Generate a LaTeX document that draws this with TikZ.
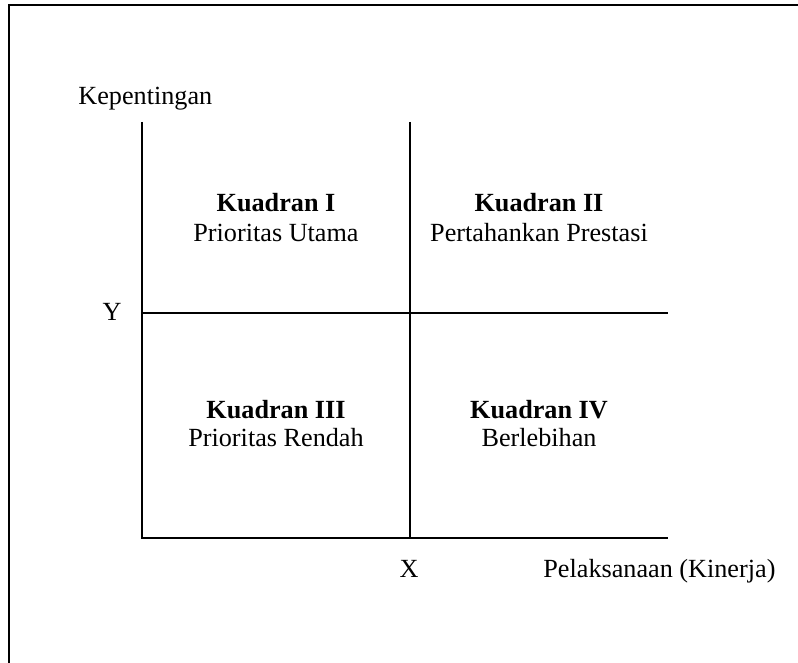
\documentclass[tikz,border=0pt]{standalone}
\usepackage{fontspec}
\setmainfont{Liberation Serif}
\begin{document}
\begin{tikzpicture}[x=0.5pt,y=-0.5pt,
  lbl/.style={font=\fontsize{13.1}{15}\selectfont, inner sep=0pt},
  axis/.style={line width=0.8pt, black},
  frame/.style={line width=1pt, black}]
\useasboundingbox (0,0) rectangle (798,663);
% frame
\coordinate (fb) at (9,663);
\coordinate (ftl) at (9,5);
\coordinate (fr) at (798,5);
\draw[frame] (fb) -- (ftl) -- (fr);
% grid coordinates
\coordinate (tl) at (142,122);
\coordinate (tm) at (410,122);
\coordinate (ml) at (142,313);
\coordinate (mr) at (668,313);
\coordinate (bl) at (142,538);
\coordinate (bm) at (410,538);
\coordinate (br) at (668,538);
\draw[axis] (tl) -- (bl) -- (br);
\draw[axis] (tm) -- (bm);
\draw[axis] (ml) -- (mr);
% axis labels
\node[lbl, anchor=base west] (kep) at (78,105) {Kepentingan};
\node[lbl, anchor=base] (ylab) at (112,321) {Y};
\node[lbl, anchor=base] (xlab) at (409,577) {X};
\node[lbl, anchor=base west] (pel) at (543,577) {Pelaksanaan (Kinerja)};
% quadrants
\node[lbl, anchor=base] (q1a) at (276,212) {\textbf{Kuadran I}};
\node[lbl, anchor=base] (q1b) at (276,242) {Prioritas Utama};
\node[lbl, anchor=base] (q2a) at (539,212) {\textbf{Kuadran II}};
\node[lbl, anchor=base] (q2b) at (539,242) {Pertahankan Prestasi};
\node[lbl, anchor=base] (q3a) at (276,418) {\textbf{Kuadran III}};
\node[lbl, anchor=base] (q3b) at (276,446) {Prioritas Rendah};
\node[lbl, anchor=base] (q4a) at (539,418) {\textbf{Kuadran IV}};
\node[lbl, anchor=base] (q4b) at (539,446) {Berlebihan};
\end{tikzpicture}
\end{document}
